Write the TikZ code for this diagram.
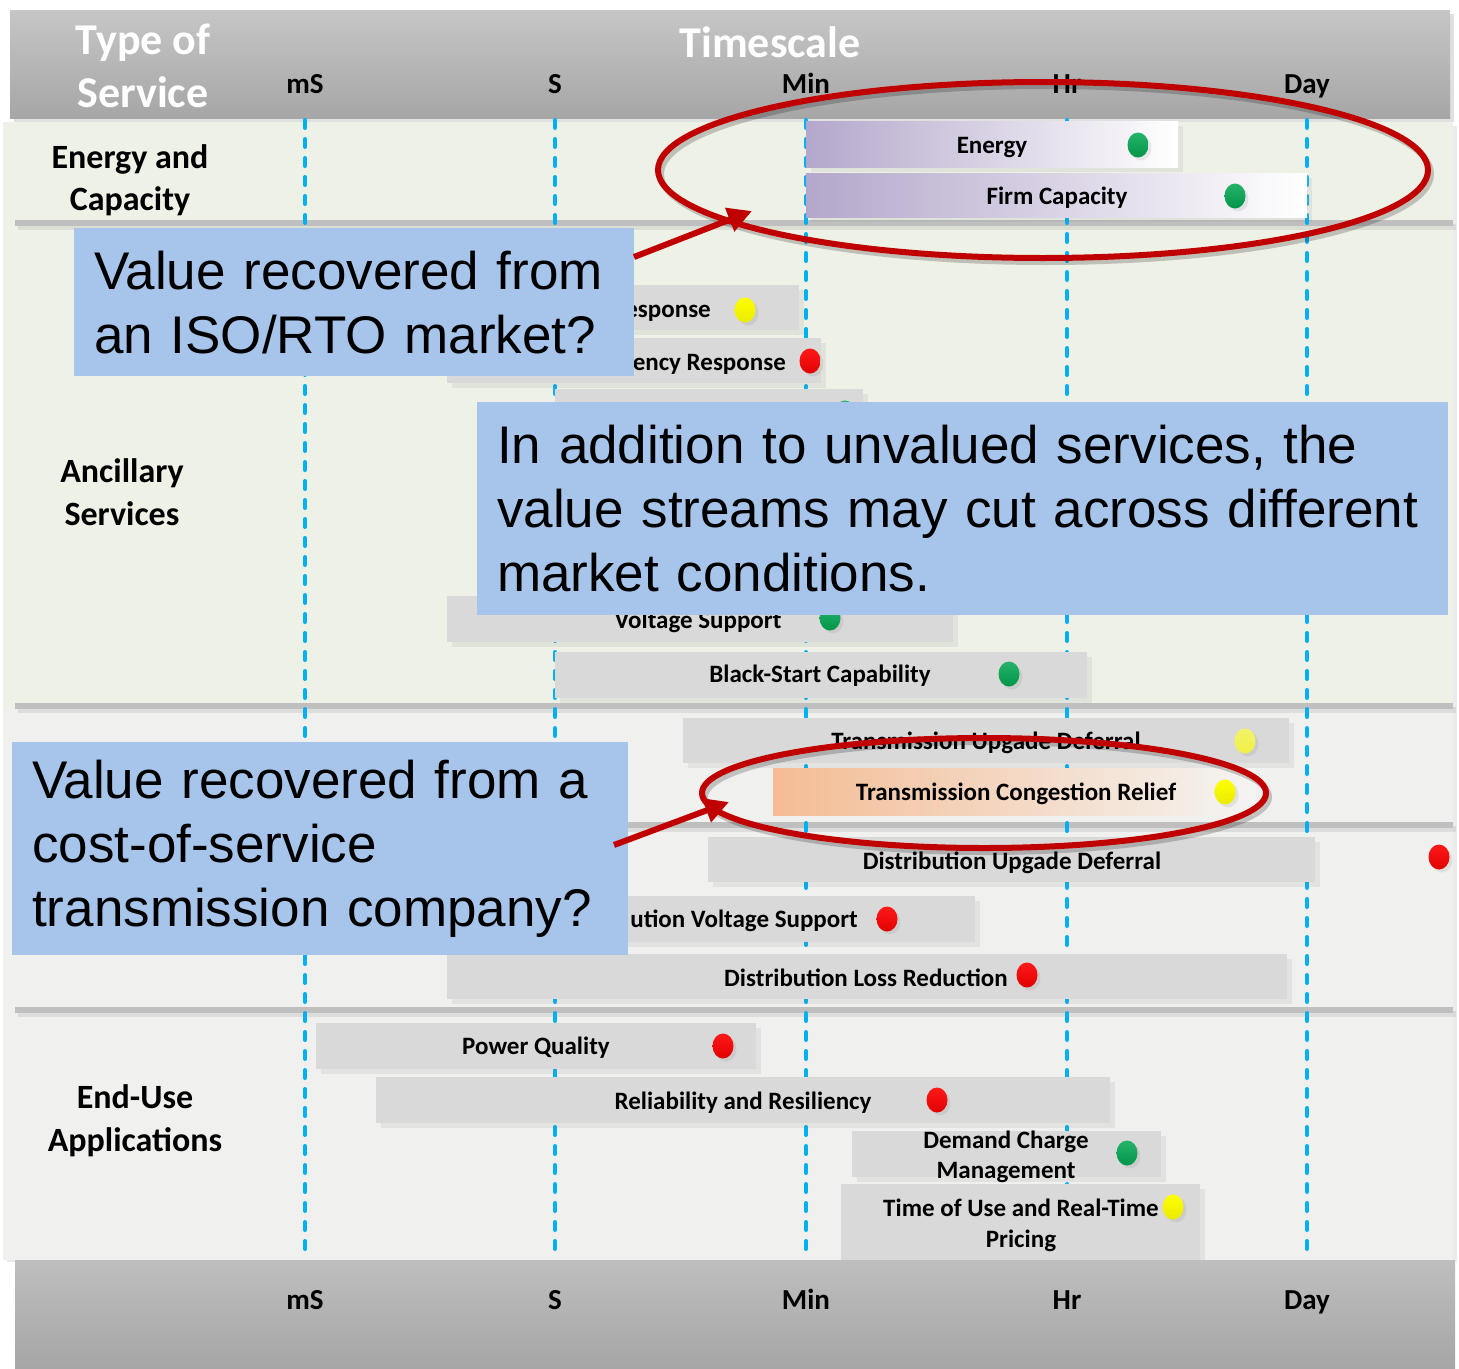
\documentclass[tikz,border=0pt]{standalone}
\usepackage{fontspec}
\setmainfont{Carlito}
\newfontfamily\arialf{Liberation Sans}
\usetikzlibrary{shapes.geometric,shadows,arrows.meta}
\definecolor{hdrtop}{HTML}{C6C6C6}
\definecolor{hdrbot}{HTML}{A6A6A6}
\definecolor{bggreen}{HTML}{EEF1E6}
\definecolor{bggray}{HTML}{F0F0EE}
\definecolor{sepgray}{HTML}{BFBFBF}
\definecolor{dashblue}{HTML}{00B0F0}
\definecolor{barfill}{HTML}{D9D9D9}
\definecolor{purp}{HTML}{B4A7CB}
\definecolor{peach}{HTML}{F4BC94}
\definecolor{callblue}{HTML}{A7C5EB}
\definecolor{darkred}{HTML}{C00000}
\definecolor{dgreen}{HTML}{00A650}
\definecolor{dred}{HTML}{FF0000}
\definecolor{dyellow}{HTML}{FFFF00}
\definecolor{lyellow}{HTML}{F0F044}
\newcommand\mkbar[6][]{\node[barbox,#1,minimum width={(#5-#3)*1pt},minimum height={(#6-#4)*1pt}] (#2) at ({(#3+#5)/2},{(#4+#6)/2}) {};}
\newcommand\calloutfont{\arialf\fontsize{53}{64}\selectfont\spaceskip=0.21em plus 0.05em\relax}
\begin{document}
\begin{tikzpicture}[x=1pt,y=-1pt,
  barbox/.style={rectangle, draw=none, fill=barfill, inner sep=0pt, outer sep=0pt,
    drop shadow={shadow xshift=5pt, shadow yshift=-5pt, opacity=0.12}},
  lbl/.style={font=\fontsize{25}{30}\selectfont\bfseries, inner sep=0pt, text height=16pt, text depth=0pt},
  seclbl/.style={font=\fontsize{34}{41}\selectfont\bfseries, inner sep=0pt, text height=22pt, text depth=0pt},
  axlbl/.style={font=\fontsize{29}{35}\selectfont\bfseries, inner sep=0pt, text height=19pt, text depth=0pt},
  hdlbl/.style={font=\fontsize{44}{53}\selectfont\bfseries, text=white, inner sep=0pt, text height=28pt, text depth=0pt},
  dot/.style={ellipse, draw=none, minimum width=21pt, minimum height=25pt, inner sep=0pt,
    drop shadow={shadow xshift=3pt, shadow yshift=-3pt, opacity=0.15}},
  gdot/.style={dot, top color=dgreen!85!white, bottom color=dgreen!90!black},
  rdot/.style={dot, top color=dred!90!white, bottom color=dred!88!black},
  ydot/.style={dot, top color=dyellow, bottom color=dyellow!92!black},
  vdash/.style={draw=dashblue, line width=4pt, line cap=round, dash pattern=on 8pt off 11pt},
  sepline/.style={draw=sepgray, line width=6pt},
  callout/.style={rectangle, fill=callblue, draw=none, inner xsep=20pt, inner ysep=0pt, align=left,
    font=\calloutfont, anchor=north west},
  redarrow/.style={draw=darkred, line width=6pt, -{Triangle[length=24pt,width=24pt]}},
  redring/.style={draw=darkred, line width=6pt},
  ringshadow/.style={draw=black, opacity=0.2, line width=6pt}
]
\useasboundingbox (0,0) rectangle (1459,1368);
\fill[white] (0,0) rectangle (1459,1368);
% header band
\fill[black!12] (14,14) rectangle (1454,122);
\shade[top color=hdrtop, bottom color=hdrbot] (10,10) rectangle (1450,118);
% body
\fill[black!8] (7,126) rectangle (1457,1262);
\fill[bggreen] (3,122) rectangle (1453,706);
\fill[bggray] (3,706) rectangle (1453,1260);
% separators
\foreach \yy in {223,706,825,1010} {
  \draw[draw=black, opacity=0.08, line width=6pt] (18,\yy+4) -- (1456,\yy+4);
  \draw[sepline] (15,\yy) -- (1453,\yy);
}
% vertical time lines
\foreach \xx in {305,555,806,1067,1307} \draw[vdash] (\xx,120) -- (\xx,1256);
% header texts
\node[hdlbl] (h1) at (143,40) {Type of};
\node[hdlbl] (h2) at (143,93) {Service};
\node[hdlbl] (h3) at (770,43) {Timescale};
\node[axlbl] (tmS) at (305,84) {mS};
\node[axlbl] (tS) at (555,84) {S};
\node[axlbl] (tMin) at (806,84) {Min};
\node[axlbl] (tHr) at (1067,84) {Hr};
\node[axlbl] (tDay) at (1307,84) {Day};
% section labels
\node[seclbl] (s1a) at (130,157) {Energy and};
\node[seclbl] (s1b) at (130,199) {Capacity};
\node[seclbl] (s2a) at (122,471) {Ancillary};
\node[seclbl] (s2b) at (122,514) {Services};
\node[seclbl] (s3a) at (135,1097) {End-Use};
\node[seclbl] (s3b) at (135,1140) {Applications};
% energy and capacity bars
\mkbar[left color=purp, middle color=purp!92!white, right color=white]{bEn}{806}{121}{1178}{167}
\node[lbl] (lEn) at (992,145) {Energy};
\node[gdot] (dEn) at (1138,145) {};
\mkbar[left color=purp, middle color=purp!92!white, right color=white]{bFC}{806}{173}{1307}{217}
\node[lbl] (lFC) at (1057,196) {Firm Capacity};
\node[gdot] (dFC) at (1235,196) {};
% ancillary bars
\mkbar{bA1}{447}{285}{799}{330}
\node[lbl, anchor=east] (lA1) at (711,309) {esponse};
\node[ydot] (dA1) at (745,310) {};
\mkbar{bA2}{447}{338}{821}{383}
\node[lbl, anchor=east] (lA2) at (786,362) {ency Response};
\node[rdot] (dA2) at (810,361) {};
\mkbar{bA3}{555}{389}{863}{434}
\node[gdot] (dA3) at (845,413) {};
\mkbar{bVS}{447}{596}{953}{642}
\node[lbl] (lVS) at (698,620) {Voltage Support};
\node[gdot] (dVS) at (830,618) {};
\mkbar{bBS}{555}{652}{1087}{698}
\node[lbl] (lBS) at (820,674) {Black-Start Capability};
\node[gdot] (dBS) at (1009,674) {};
% transmission and distribution bars
\mkbar{bTU}{683}{718}{1289}{763}
\node[lbl] (lTU) at (986,741) {Transmission Upgade Deferral};
\node[dot, top color=lyellow!80!white, bottom color=lyellow] (dTU) at (1245,741) {};
\node[rectangle, inner sep=0pt, minimum width=483pt, minimum height=47pt, left color=peach, right color=bggray!70!white] (bTC) at (1014.5,791.5) {};
\node[lbl] (lTC) at (1016,792) {Transmission Congestion Relief};
\node[ydot] (dTC) at (1225,792) {};
\mkbar{bDU}{708}{837}{1315}{882}
\node[lbl] (lDU) at (1012,861) {Distribution Upgade Deferral};
\node[rdot] (dDU) at (1439,857) {};
\mkbar{bDV}{447}{896}{975}{942}
\node[lbl, anchor=east] (lDV) at (858,919) {ution Voltage Support};
\node[rdot] (dDV) at (887,919) {};
\mkbar{bDL}{447}{954}{1287}{999}
\node[lbl] (lDL) at (866,978) {Distribution Loss Reduction};
\node[rdot] (dDL) at (1027,975) {};
% end-use bars
\mkbar{bPQ}{316}{1023}{756}{1069}
\node[lbl] (lPQ) at (536,1046) {Power Quality};
\node[rdot] (dPQ) at (723,1046) {};
\mkbar{bRR}{376}{1077}{1110}{1123}
\node[lbl] (lRR) at (743,1101) {Reliability and Resiliency};
\node[rdot] (dRR) at (937,1100) {};
\mkbar{bDC}{852}{1131}{1161}{1177}
\node[lbl] (lDC1) at (1006,1140) {Demand Charge};
\node[lbl] (lDC2) at (1006,1170) {Management};
\node[gdot] (dDC) at (1127,1153) {};
\mkbar{bTO}{841}{1184}{1200}{1262}
\node[lbl] (lTO1) at (1021,1208) {Time of Use and Real-Time};
\node[lbl] (lTO2) at (1021,1239) {Pricing};
\node[ydot] (dTO) at (1173,1207) {};
% bottom band
\shade[top color=hdrtop!96!black, bottom color=hdrbot] (15,1260) rectangle (1455,1368);
\node[axlbl] (bmS) at (305,1300) {mS};
\node[axlbl] (bS) at (555,1300) {S};
\node[axlbl] (bMin) at (806,1300) {Min};
\node[axlbl] (bHr) at (1067,1300) {Hr};
\node[axlbl] (bDay) at (1307,1300) {Day};
% red rings
\draw[ringshadow] (1046,174) ellipse [x radius=385, y radius=88];
\draw[redring] (1043,170) ellipse [x radius=385, y radius=88];
\draw[ringshadow] (987,797) ellipse [x radius=282, y radius=55];
\draw[redring] (984,793) ellipse [x radius=282, y radius=55];
% callouts
\node[callout, text width=520pt, minimum height=148pt] (c1) at (74,228) {Value recovered from\\an ISO/RTO market?};
\node[callout, text width=931pt, minimum height=213pt] (c2) at (477,402) {In addition to unvalued services, the\\value streams may cut across different\\market conditions.};
\node[callout, text width=576pt, minimum height=213pt] (c3) at (12,742) {Value recovered from a\\cost-of-service\\transmission company?};
% arrows
\coordinate (a1s) at (634,257);
\coordinate (a1e) at (752,211);
\coordinate (a3s) at (614,845);
\coordinate (a3e) at (729,802);
\draw[redarrow] (a1s) -- (a1e);
\draw[redarrow] (a3s) -- (a3e);
\end{tikzpicture}
\end{document}
